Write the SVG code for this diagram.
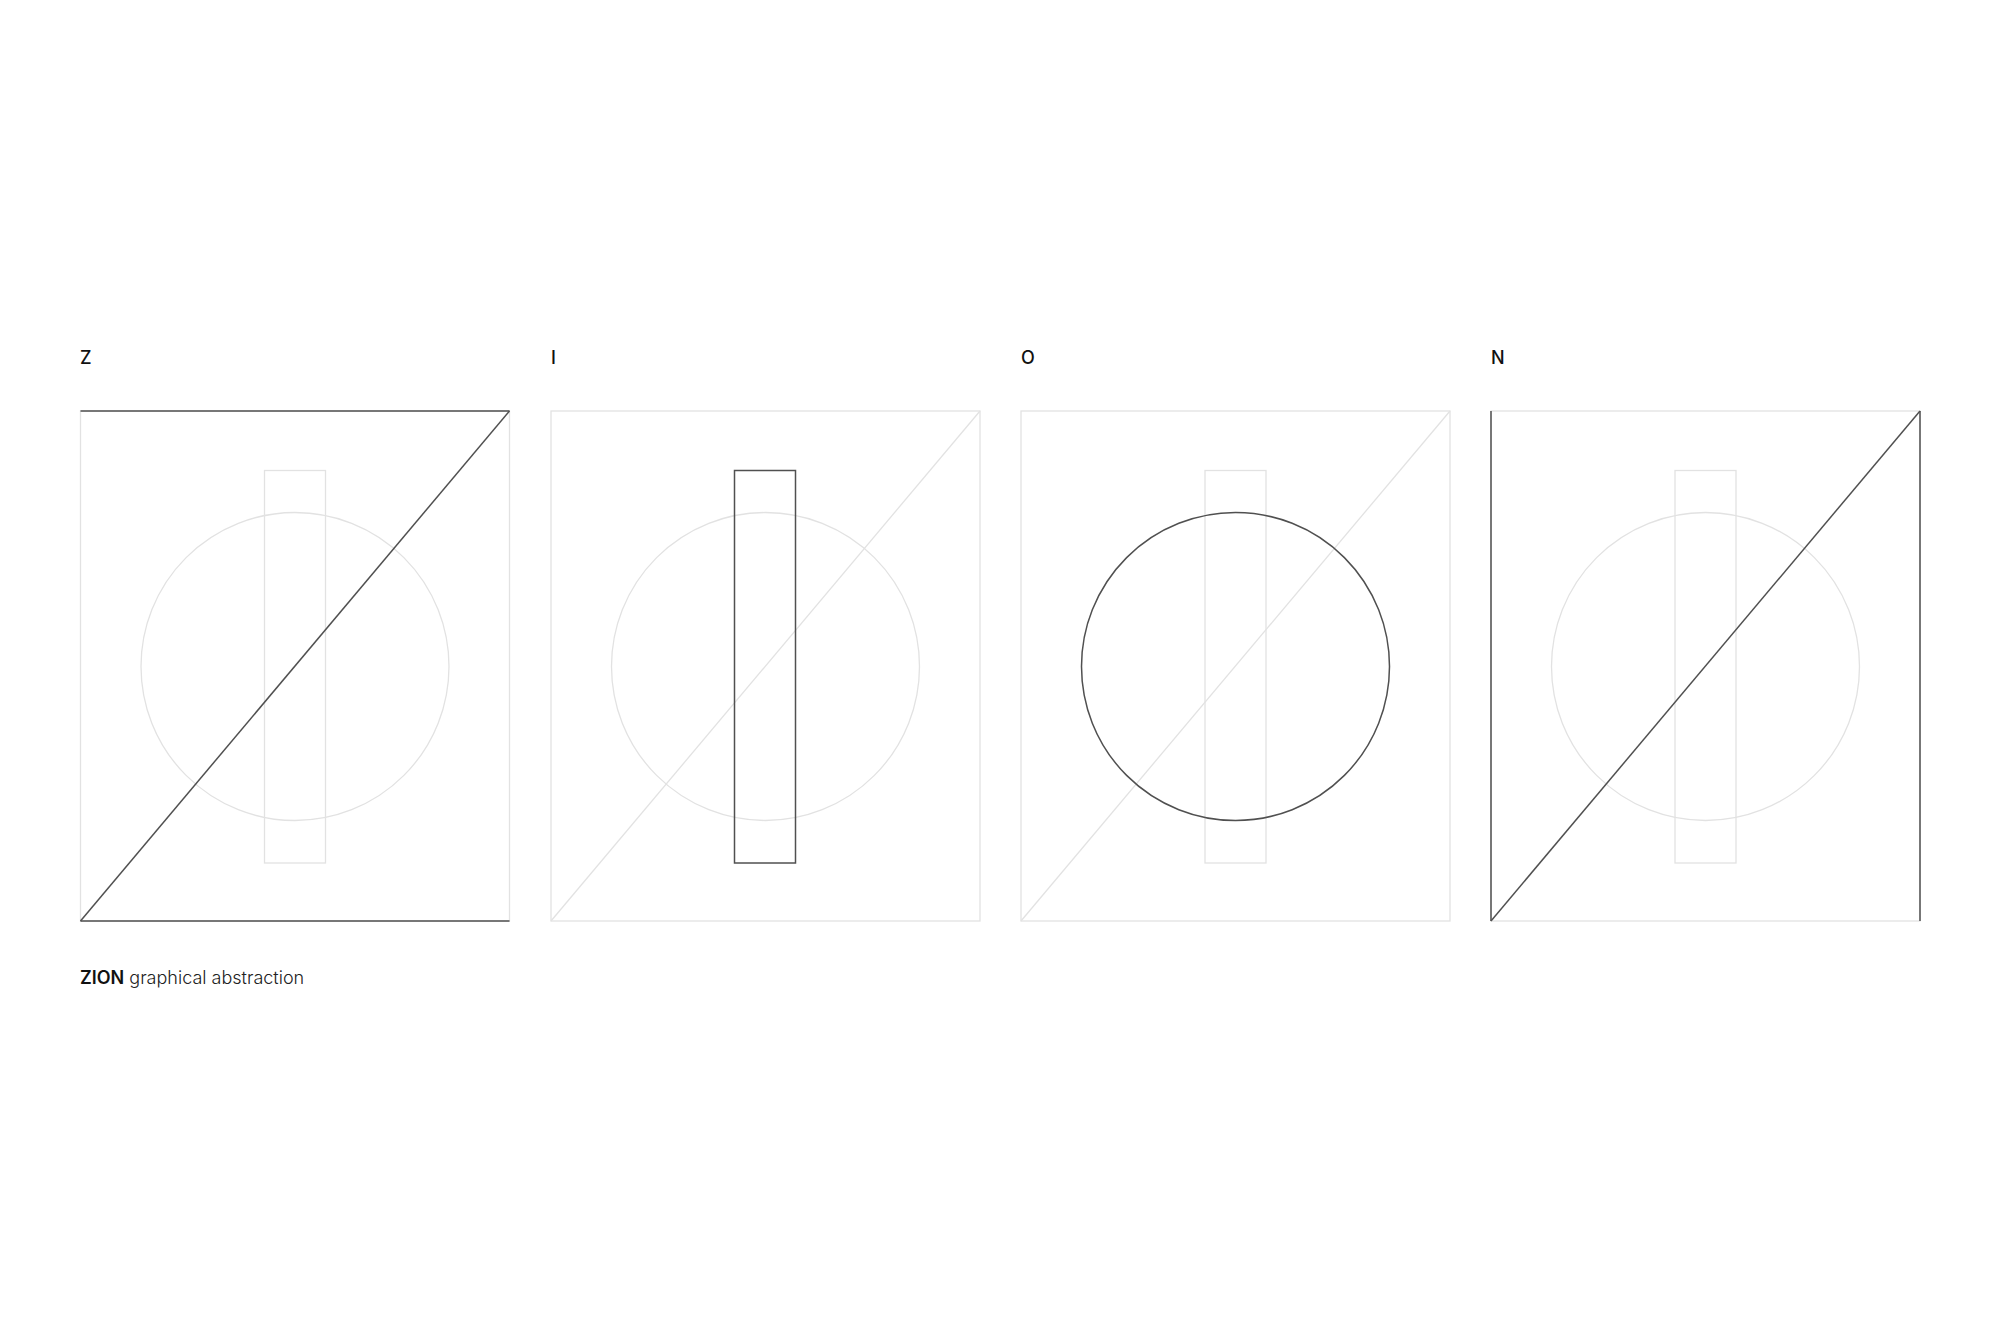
<svg xmlns="http://www.w3.org/2000/svg" width="2000" height="1333" viewBox="0 0 2000 1333">
<style>
.l{fill:none;stroke:#e2e2e2;stroke-width:1.3}
.d{fill:none;stroke:#505050;stroke-width:1.5}
.t{font-family:Inter,"Liberation Sans",sans-serif;font-size:18px;fill:#111;font-weight:500}
.c{font-family:Inter,"Liberation Sans",sans-serif;font-size:18px;fill:#222}
</style>
<rect width="2000" height="1333" fill="#fff"/>
<g id="panel-z">
<text class="t" x="80" y="364">Z</text>
<rect class="l" x="80.5" y="411" width="429" height="510"/>
<rect class="l" x="264.5" y="470.5" width="61" height="392.5"/>
<circle class="l" cx="295" cy="666.5" r="154"/>
<line class="d" x1="80.5" y1="411" x2="509.5" y2="411"/>
<line class="d" x1="80.5" y1="921" x2="509.5" y2="921"/>
<line class="d" x1="80.5" y1="921" x2="509.5" y2="411"/>
</g>
<g id="panel-i">
<text class="t" x="551" y="364">I</text>
<rect class="l" x="551" y="411" width="429" height="510"/>
<line class="l" x1="551" y1="921" x2="980" y2="411"/>
<circle class="l" cx="765.5" cy="666.5" r="154"/>
<rect class="d" x="734.5" y="470.5" width="61" height="392.5"/>
</g>
<g id="panel-o">
<text class="t" x="1021" y="364">O</text>
<rect class="l" x="1021" y="411" width="429" height="510"/>
<rect class="l" x="1205" y="470.5" width="61" height="392.5"/>
<line class="l" x1="1021" y1="921" x2="1450" y2="411"/>
<circle class="d" cx="1235.5" cy="666.5" r="154"/>
</g>
<g id="panel-n">
<text class="t" x="1491" y="364">N</text>
<rect class="l" x="1491" y="411" width="429" height="510"/>
<rect class="l" x="1675" y="470.5" width="61" height="392.5"/>
<circle class="l" cx="1705.5" cy="666.5" r="154"/>
<line class="d" x1="1491" y1="411" x2="1491" y2="921"/>
<line class="d" x1="1920" y1="411" x2="1920" y2="921"/>
<line class="d" x1="1491" y1="921" x2="1920" y2="411"/>
</g>
<g id="caption">
<text class="c" x="80" y="984"><tspan font-weight="600" fill="#111">ZION</tspan><tspan font-weight="300"> graphical abstraction</tspan></text>
</g>
<g id="connectors"/>
</svg>
